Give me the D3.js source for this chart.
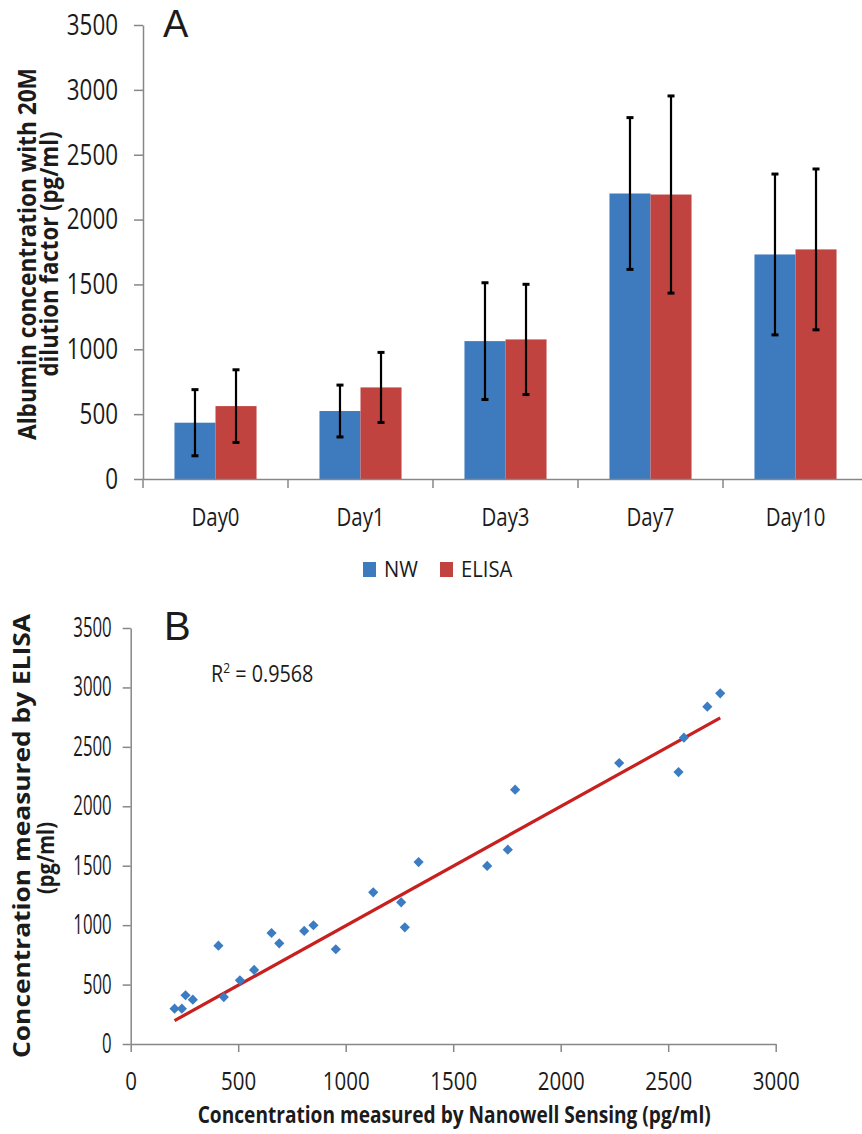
<!DOCTYPE html>
<html>
<head>
<meta charset="utf-8">
<script src="https://cdn.jsdelivr.net/npm/d3@7"></script>
<style>
  html, body { margin: 0; padding: 0; background: #ffffff; }
  svg { display: block; }
</style>
</head>
<body>
<svg id="fig" width="862" height="1134"></svg>
<script>
// ---- Panel A: albumin concentration by day, two assays ----
const days = ["Day0", "Day1", "Day3", "Day7", "Day10"];
const seriesNames = ["NW", "ELISA"];
const nwMeans = [434, 524, 1063, 2201, 1731];
const nwErrors = [255, 200, 450, 585, 620];
const elisaMeans = [562, 706, 1076, 2193, 1770];
const elisaErrors = [280, 270, 425, 760, 620];
const barTicks = [0, 500, 1000, 1500, 2000, 2500, 3000, 3500];

// ---- Panel B: nanowell sensing vs ELISA ----
const nanowellValues = [204, 238, 255, 289, 408, 433, 508, 574, 655, 691, 807, 850, 954,
  1128, 1258, 1275, 1339, 1658, 1754, 1788, 2272, 2548, 2573, 2682, 2742];
const elisaValues = [297, 297, 410, 373, 827, 395, 536, 623, 934, 847, 951, 999, 797,
  1276, 1192, 982, 1531, 1498, 1635, 2140, 2364, 2288, 2577, 2838, 2950];
const scatterXTicks = [0, 500, 1000, 1500, 2000, 2500, 3000];
const scatterYTicks = [0, 500, 1000, 1500, 2000, 2500, 3000, 3500];
const trendSlope = 1.0033;
const trendIntercept = -8;
const rSquaredText = "0.9568";

const FONT = "'Open Sans', 'Noto Sans', sans-serif";
const LETTER_FONT = "'Liberation Sans', Arial, sans-serif";
const AXIS_GREY = "#878787";
const TEXT = "#1b1b1b";
const seriesColor = { NW: "#3e7bbe", ELISA: "#c0433f" };

const svg = d3.select("#fig");

// condense / stretch text glyphs about their own anchor point
function squeeze(sel, sx, sy) {
  sel.each(function () {
    const t = d3.select(this);
    const x = +t.attr("x") || 0, y = +t.attr("y") || 0;
    t.attr("transform", `translate(${x},${y}) scale(${sx},${sy}) translate(${-x},${-y})`);
  });
}

function styleAxis(g, fontSize) {
  g.select(".domain").attr("stroke", AXIS_GREY).attr("stroke-width", 1.5);
  g.selectAll(".tick line").attr("stroke", AXIS_GREY).attr("stroke-width", 1.5);
  g.selectAll(".tick text")
    .attr("fill", TEXT)
    .style("font-family", FONT)
    .style("font-size", fontSize + "px");
}

// ================= Panel A =================
const xA = d3.scaleBand().domain(days).range([143, 868]);
const gapFraction = 0.434;
const xSeries = d3.scaleBand().domain(seriesNames)
  .range([xA.bandwidth() * gapFraction / 2, xA.bandwidth() * (1 - gapFraction / 2)]);
const yA = d3.scaleLinear().domain([0, 3500]).range([479, 25]);

const barRows = days.map((day, i) => ({
  day,
  values: [
    { series: "NW", mean: nwMeans[i], err: nwErrors[i] },
    { series: "ELISA", mean: elisaMeans[i], err: elisaErrors[i] }
  ]
}));

const panelA = svg.append("g").attr("class", "panel-a");

const groups = panelA.selectAll("g.day")
  .data(barRows)
  .join("g")
  .attr("class", "day")
  .attr("transform", d => `translate(${xA(d.day)},0)`);

groups.selectAll("rect")
  .data(d => d.values)
  .join("rect")
  .attr("x", d => xSeries(d.series))
  .attr("y", d => yA(d.mean))
  .attr("width", xSeries.bandwidth())
  .attr("height", d => yA(0) - yA(d.mean))
  .attr("fill", d => seriesColor[d.series]);

// error bars with caps
const capHalf = 3.5;
const errG = groups.selectAll("g.err")
  .data(d => d.values)
  .join("g")
  .attr("class", "err")
  .attr("transform", d => `translate(${xSeries(d.series) + xSeries.bandwidth() / 2},0)`);
errG.append("line")
  .attr("x1", 0).attr("x2", 0)
  .attr("y1", d => yA(d.mean + d.err))
  .attr("y2", d => yA(d.mean - d.err))
  .attr("stroke", "#000").attr("stroke-width", 2.2);
errG.selectAll("line.cap")
  .data(d => [d.mean + d.err, d.mean - d.err])
  .join("line")
  .attr("class", "cap")
  .attr("x1", -capHalf).attr("x2", capHalf)
  .attr("y1", v => yA(v)).attr("y2", v => yA(v))
  .attr("stroke", "#000").attr("stroke-width", 3);

// y axis
const yAxisA = panelA.append("g")
  .attr("transform", `translate(${xA.range()[0]},0)`)
  .call(d3.axisLeft(yA).tickValues(barTicks).tickFormat(d3.format("d"))
    .tickSize(9).tickSizeOuter(0).tickPadding(16));
styleAxis(yAxisA, 28);
squeeze(yAxisA.selectAll(".tick text"), 0.8, 1.05);

// x axis with category labels centred in each band
const xAxisA = panelA.append("g")
  .attr("transform", `translate(0,${yA(0)})`)
  .call(d3.axisBottom(xA).tickSize(0).tickSizeOuter(0).tickPadding(29));
styleAxis(xAxisA, 25.5);
squeeze(xAxisA.selectAll(".tick text"), 0.8, 1);

// tick marks at the category boundaries
const boundaries = days.map(d => xA(d)).concat([xA.range()[1]]);
panelA.append("g").selectAll("line")
  .data(boundaries)
  .join("line")
  .attr("x1", d => d).attr("x2", d => d)
  .attr("y1", yA(0)).attr("y2", yA(0) + 9)
  .attr("stroke", AXIS_GREY).attr("stroke-width", 1.5);

// axis title, two lines
const titleA = [
  { text: "Albumin concentration with 20M", x: 36, len: 372 },
  { text: "dilution factor (pg/ml)", x: 58, len: 245 }
];
panelA.append("g").selectAll("text")
  .data(titleA)
  .join("text")
  .attr("transform", d => `translate(${d.x},${(yA(0) + yA(3500)) / 2 + 2}) rotate(-90)`)
  .attr("text-anchor", "middle")
  .attr("textLength", d => d.len)
  .attr("lengthAdjust", "spacingAndGlyphs")
  .style("font-family", FONT)
  .style("font-weight", "bold")
  .style("font-size", "25px")
  .attr("fill", TEXT)
  .text(d => d.text);

// panel letter
panelA.append("text")
  .attr("x", 163).attr("y", 37)
  .style("font-family", LETTER_FONT).style("font-size", "38px")
  .attr("fill", TEXT)
  .text("A");

// legend
const legendA = panelA.append("g").attr("class", "legend");
const legendItems = [{ name: "NW", x: 363 }, { name: "ELISA", x: 440 }];
legendA.selectAll("rect")
  .data(legendItems)
  .join("rect")
  .attr("x", d => d.x).attr("y", 562)
  .attr("width", 13).attr("height", 15)
  .attr("fill", d => seriesColor[d.name]);
const legendText = legendA.selectAll("text")
  .data(legendItems)
  .join("text")
  .attr("x", d => d.x + 21).attr("y", 577.5)
  .style("font-family", FONT).style("font-size", "22px")
  .attr("fill", TEXT)
  .text(d => d.name);
squeeze(legendText, 0.92, 1);

// ================= Panel B =================
const xB = d3.scaleLinear().domain([0, 3000]).range([130.7, 775.7]);
const yB = d3.scaleLinear().domain([0, 3500]).range([1044, 628]);
const panelB = svg.append("g").attr("class", "panel-b");

const yAxisB = panelB.append("g")
  .attr("transform", `translate(${xB(0)},0)`)
  .call(d3.axisLeft(yB).tickValues(scatterYTicks).tickFormat(d3.format("d"))
    .tickSize(8).tickSizeOuter(0).tickPadding(11));
styleAxis(yAxisB, 24);
squeeze(yAxisB.selectAll(".tick text"), 0.7, 1.1);

const xAxisB = panelB.append("g")
  .attr("transform", `translate(0,${yB(0)})`)
  .call(d3.axisBottom(xB).tickValues(scatterXTicks).tickFormat(d3.format("d"))
    .tickSize(8).tickSizeOuter(0).tickPadding(20));
styleAxis(xAxisB, 25);
squeeze(xAxisB.selectAll(".tick text"), 0.82, 1);

// linear trend line across the range of the measurements
const xExtent = d3.extent(nanowellValues);
const trendPoints = xExtent.map(x => [x, trendSlope * x + trendIntercept]);
panelB.append("path")
  .attr("d", d3.line().x(d => xB(d[0])).y(d => yB(d[1]))(trendPoints))
  .attr("stroke", "#c8201f").attr("stroke-width", 3.2)
  .attr("fill", "none");

// diamond markers
const pairs = nanowellValues.map((x, i) => [x, elisaValues[i]]);
const diamond = d3.symbol().type(d3.symbolSquare).size(52);
panelB.append("g").selectAll("path")
  .data(pairs)
  .join("path")
  .attr("d", diamond)
  .attr("transform", d => `translate(${xB(d[0])},${yB(d[1])}) rotate(45)`)
  .attr("fill", "#3b7cc3");

// R squared label
const rLabel = panelB.append("text")
  .attr("x", 211).attr("y", 682)
  .style("font-family", FONT).style("font-size", "23px")
  .attr("fill", TEXT);
rLabel.append("tspan").text("R");
rLabel.append("tspan").attr("dy", -9).style("font-size", "14px").text("2");
rLabel.append("tspan").attr("dy", 9).text(" = " + rSquaredText);
squeeze(rLabel, 0.86, 1);

// panel letter
panelB.append("text")
  .attr("x", 164).attr("y", 640)
  .style("font-family", LETTER_FONT).style("font-size", "40px")
  .attr("fill", TEXT)
  .text("B");

// axis titles
panelB.append("text")
  .attr("x", (xB(0) + xB(3000)) / 2 + 1).attr("y", 1123)
  .attr("text-anchor", "middle")
  .attr("textLength", 513)
  .attr("lengthAdjust", "spacingAndGlyphs")
  .style("font-family", FONT).style("font-weight", "bold").style("font-size", "23px")
  .attr("fill", TEXT)
  .text("Concentration measured by Nanowell Sensing (pg/ml)");

const titleB = [
  { text: "Concentration measured by ELISA", x: 30, y: 836, len: 444 },
  { text: "(pg/ml)", x: 54, y: 858, len: 72 }
];
panelB.append("g").selectAll("text")
  .data(titleB)
  .join("text")
  .attr("transform", d => `translate(${d.x},${d.y}) rotate(-90)`)
  .attr("text-anchor", "middle")
  .attr("textLength", d => d.len)
  .attr("lengthAdjust", "spacingAndGlyphs")
  .style("font-family", FONT)
  .style("font-weight", "bold")
  .style("font-size", "23px")
  .attr("fill", TEXT)
  .text(d => d.text);
</script>
</body>
</html>
